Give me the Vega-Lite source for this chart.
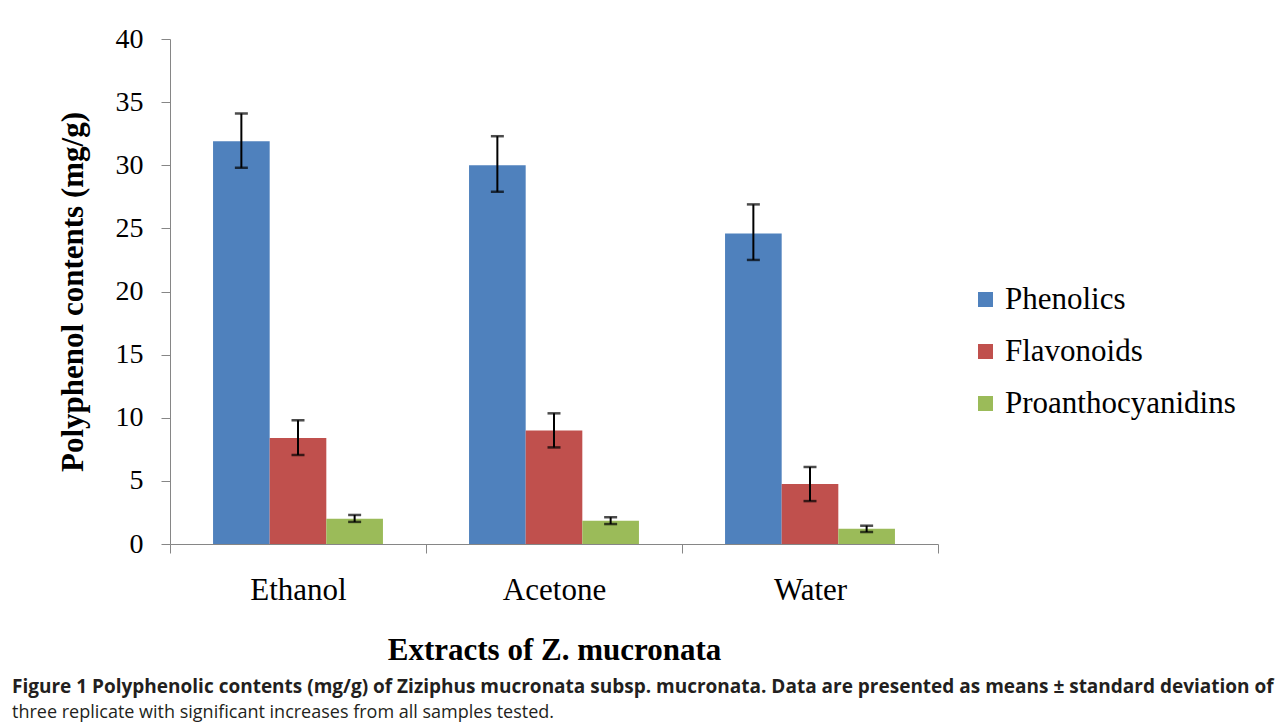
{
  "$schema": "https://vega.github.io/schema/vega-lite/v6.json",
  "width": 768,
  "height": 505,
  "autosize": {"type": "none"},
  "padding": {"left": 170, "top": 39, "right": 344, "bottom": 182},
  "background": "white",
  "config": {
    "view": {"stroke": null},
    "font": "Liberation Serif"
  },
  "title": {
    "text": "Figure 1 Polyphenolic contents (mg/g) of Ziziphus mucronata subsp. mucronata. Data are presented as means ± standard deviation of",
    "subtitle": "three replicate with significant increases from all samples tested.",
    "orient": "bottom",
    "anchor": "start",
    "frame": "group",
    "dx": -158,
    "offset": 13,
    "font": "Open Sans",
    "fontSize": 19,
    "fontWeight": "bold",
    "color": "#231f20",
    "subtitleFont": "Open Sans",
    "subtitleFontSize": 18,
    "subtitleFontWeight": "normal",
    "subtitleColor": "#231f20",
    "subtitlePadding": 7
  },
  "data": {
    "values": [
      {"Extract": "Ethanol", "Compound": "Phenolics", "Mean": 31.9, "Low": 29.8, "High": 34.1},
      {"Extract": "Ethanol", "Compound": "Flavonoids", "Mean": 8.4, "Low": 7.05, "High": 9.8},
      {"Extract": "Ethanol", "Compound": "Proanthocyanidins", "Mean": 2.0, "Low": 1.75, "High": 2.3},
      {"Extract": "Acetone", "Compound": "Phenolics", "Mean": 30.0, "Low": 27.9, "High": 32.3},
      {"Extract": "Acetone", "Compound": "Flavonoids", "Mean": 9.0, "Low": 7.65, "High": 10.35},
      {"Extract": "Acetone", "Compound": "Proanthocyanidins", "Mean": 1.85, "Low": 1.58, "High": 2.12},
      {"Extract": "Water", "Compound": "Phenolics", "Mean": 24.6, "Low": 22.5, "High": 26.9},
      {"Extract": "Water", "Compound": "Flavonoids", "Mean": 4.75, "Low": 3.4, "High": 6.1},
      {"Extract": "Water", "Compound": "Proanthocyanidins", "Mean": 1.2, "Low": 0.95, "High": 1.45}
    ]
  },
  "encoding": {
    "x": {
      "field": "Extract",
      "type": "nominal",
      "sort": ["Ethanol", "Acetone", "Water"],
      "scale": {"paddingInner": 0, "paddingOuter": 0},
      "axis": {
        "title": "Extracts of Z. mucronata",
        "titleFont": "Liberation Serif",
        "titleFontSize": 31,
        "titleFontWeight": "bold",
        "titleColor": "black",
        "titlePadding": 30,
        "labelAngle": 0,
        "labelFont": "Liberation Serif",
        "labelFontSize": 31,
        "labelColor": "black",
        "labelPadding": 22,
        "tickBand": "extent",
        "tickSize": 9,
        "tickColor": "#868686",
        "domainColor": "#868686",
        "grid": false
      }
    },
    "xOffset": {
      "field": "Compound",
      "type": "nominal",
      "sort": ["Phenolics", "Flavonoids", "Proanthocyanidins"],
      "scale": {"paddingInner": 0, "paddingOuter": 0.76}
    }
  },
  "layer": [
    {
      "mark": {"type": "bar"},
      "encoding": {
        "y": {
          "field": "Mean",
          "type": "quantitative",
          "scale": {"domain": [0, 40], "nice": false},
          "axis": {
            "title": "Polyphenol contents (mg/g)",
            "titleFont": "Liberation Serif",
            "titleFontSize": 31,
            "titleFontWeight": "bold",
            "titleColor": "black",
            "titlePadding": 26,
            "values": [0, 5, 10, 15, 20, 25, 30, 35, 40],
            "labelFont": "Liberation Serif",
            "labelFontSize": 28,
            "labelColor": "black",
            "labelPadding": 18,
            "tickSize": 9,
            "tickColor": "#868686",
            "domainColor": "#868686",
            "grid": false
          }
        },
        "color": {
          "field": "Compound",
          "type": "nominal",
          "sort": ["Phenolics", "Flavonoids", "Proanthocyanidins"],
          "scale": {"domain": ["Phenolics", "Flavonoids", "Proanthocyanidins"], "range": ["#4F81BD", "#C0504D", "#9BBB59"]},
          "legend": {
            "title": null,
            "orient": "none",
            "legendX": 800,
            "legendY": 245,
            "symbolType": "square",
            "symbolSize": 225,
            "symbolStrokeWidth": 0,
            "labelFont": "Liberation Serif",
            "labelFontSize": 31,
            "labelColor": "black",
            "labelOffset": 4,
            "rowPadding": 20,
            "labelLimit": 400
          }
        }
      }
    },
    {
      "mark": {"type": "rule", "color": "black", "strokeWidth": 2},
      "encoding": {
        "y": {"field": "Low", "type": "quantitative"},
        "y2": {"field": "High"}
      }
    },
    {
      "mark": {"type": "tick", "color": "black", "thickness": 2.5, "size": 13, "orient": "horizontal"},
      "encoding": {
        "y": {"field": "Low", "type": "quantitative"}
      }
    },
    {
      "mark": {"type": "tick", "color": "black", "thickness": 2.5, "size": 13, "orient": "horizontal"},
      "encoding": {
        "y": {"field": "High", "type": "quantitative"}
      }
    }
  ]
}
